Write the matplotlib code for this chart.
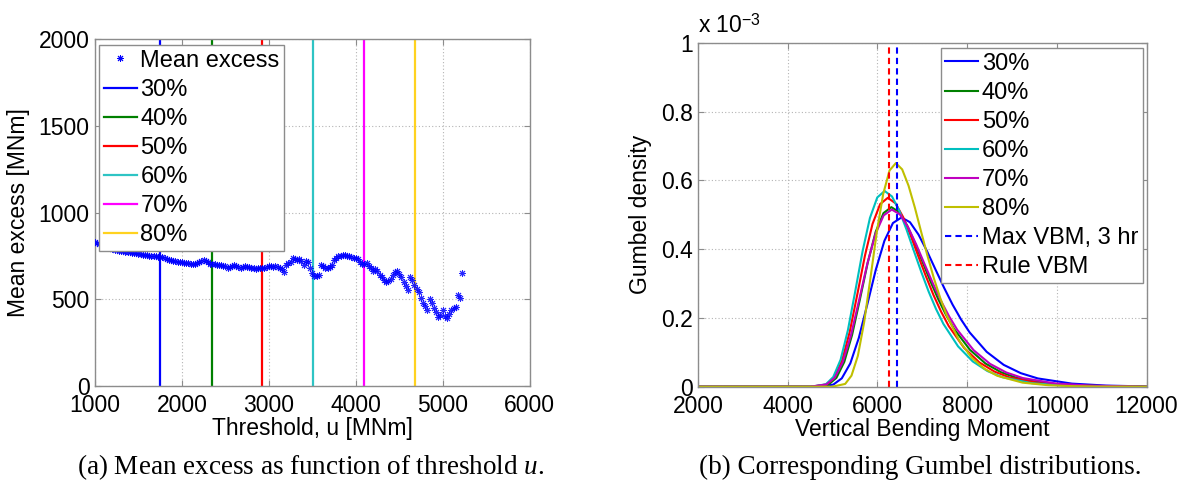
import numpy as np
import matplotlib
matplotlib.use('Agg')
import matplotlib.pyplot as plt
from matplotlib.lines import Line2D

plt.rcParams['font.family'] = ['Liberation Sans', 'DejaVu Sans']
plt.rcParams['mathtext.fontset'] = 'custom'
plt.rcParams['mathtext.rm'] = 'Liberation Sans'
plt.rcParams['mathtext.it'] = 'Liberation Serif:italic'

# (a) mean excess vs threshold
thresholds = np.arange(1000, 5226, 25)
mean_excess = [
    830, 825, 820, 815, 810, 806, 800, 796, 790, 786,
    783, 780, 778, 776, 774, 771, 770, 768, 765, 764,
    762, 760, 758, 756, 755, 752, 750, 749, 747, 746,
    744, 742, 738, 733, 728, 724, 720, 718, 716, 714,
    712, 710, 708, 707, 706, 704, 706, 709, 712, 718,
    724, 720, 712, 706, 703, 702, 700, 698, 696, 694,
    690, 682, 686, 692, 698, 694, 686, 680, 688, 690,
    688, 684, 680, 678, 677, 680, 678, 682, 680, 686,
    690, 692, 686, 690, 688, 680, 672, 660, 700, 708,
    712, 736, 730, 728, 732, 718, 700, 720, 712, 680,
    650, 636, 632, 640, 700, 690, 682, 680, 686, 700,
    728, 740, 748, 752, 756, 758, 752, 748, 745, 740,
    738, 730, 715, 706, 706, 710, 692, 680, 662, 672,
    665, 640, 628, 610, 600, 606, 618, 640, 655, 662,
    648, 630, 600, 575, 555, 630, 612, 580, 560, 540,
    510, 480, 460, 440, 500, 480, 450, 425, 400, 410,
    436, 405, 390, 415, 440, 452, 457, 525, 505, 650,
]
pct_labels = ['30%', '40%', '50%', '60%', '70%', '80%']
pct_thresholds = [1748, 2343, 2922, 3512, 4095, 4686]
left_colors = ['#0000ff', '#008000', '#ff0000', '#2ec4c4', '#ff00ff', '#ffd21f']

# (b) Gumbel densities (x in MNm, density in units of 1e-3)
vbm_30 = [2000, 4635, 5015, 5205, 5395, 5585, 5775, 5965, 6155, 6345, 6535, 6725, 6915, 7105, 7295,
          7485, 7675, 7865, 8055, 8435, 8815, 9195, 9575, 10335, 11095, 11855, 12000]
dens_30 = [0, 0.0001, 0.0061, 0.0244, 0.0679, 0.1422, 0.2401, 0.3410, 0.4241, 0.4758, 0.492, 0.4782,
           0.4423, 0.3941, 0.3405, 0.2878, 0.2386, 0.1953, 0.1579, 0.1014, 0.0635, 0.0394, 0.0241,
           0.0090, 0.0033, 0.0012, 0]
vbm_40 = [2000, 4560, 4910, 5085, 5260, 5435, 5610, 5785, 5960, 6135, 6310, 6485, 6660, 6835, 7010,
          7185, 7360, 7535, 7710, 8060, 8410, 8760, 9110, 9810, 10510, 11210, 11910, 12000]
dens_40 = [0, 0.0001, 0.0065, 0.0258, 0.0720, 0.1509, 0.2547, 0.3617, 0.4500, 0.5048, 0.522, 0.5074,
           0.4693, 0.4181, 0.3612, 0.3054, 0.2532, 0.2072, 0.1676, 0.1075, 0.0673, 0.0418, 0.0255,
           0.0094, 0.0035, 0.0013, 0.0005, 0]
vbm_50 = [2000, 4530, 4870, 5040, 5210, 5380, 5550, 5720, 5890, 6060, 6230, 6400, 6570, 6740, 6910,
          7080, 7250, 7420, 7590, 7930, 8270, 8610, 8950, 9630, 10310, 10990, 11670, 12000]
dens_50 = [0, 0.0001, 0.0068, 0.0272, 0.0758, 0.1587, 0.2679, 0.3805, 0.4732, 0.5309, 0.549, 0.5336,
           0.4936, 0.4397, 0.3799, 0.3212, 0.2663, 0.2180, 0.1762, 0.1131, 0.0708, 0.0439, 0.0268,
           0.0100, 0.0037, 0.0014, 0.0005, 0]
vbm_60 = [2000, 4522, 4850, 5014, 5178, 5341, 5505, 5669, 5832, 5996, 6160, 6324, 6488, 6651, 6815,
          6979, 7143, 7306, 7470, 7798, 8125, 8453, 8780, 9435, 10090, 10745, 11400, 12000]
dens_60 = [0, 0.0001, 0.0071, 0.0282, 0.0785, 0.1644, 0.2777, 0.3943, 0.4905, 0.5502, 0.569, 0.5531,
           0.5115, 0.4558, 0.3937, 0.3329, 0.2760, 0.2259, 0.1826, 0.1172, 0.0734, 0.0455, 0.0278,
           0.0104, 0.0038, 0.0014, 0.0005, 0]
vbm_70 = [2000, 4495, 4860, 5043, 5225, 5408, 5590, 5773, 5955, 6138, 6320, 6503, 6685, 6868, 7050,
          7233, 7415, 7598, 7780, 8145, 8510, 8875, 9240, 9970, 10700, 11430, 12000]
dens_70 = [0, 0.0001, 0.0064, 0.0255, 0.0711, 0.1488, 0.2513, 0.3569, 0.4439, 0.4980, 0.515, 0.5006,
           0.4630, 0.4125, 0.3564, 0.3013, 0.2498, 0.2045, 0.1653, 0.1061, 0.0664, 0.0412, 0.0252,
           0.0094, 0.0035, 0.0013, 0]
vbm_80 = [2000, 4998, 5280, 5421, 5563, 5704, 5845, 5986, 6128, 6269, 6410, 6551, 6693, 6834, 6975,
          7116, 7258, 7399, 7540, 7823, 8105, 8388, 8670, 9235, 9800, 10365, 10930, 12000]
dens_80 = [0, 0.0001, 0.0081, 0.0322, 0.0897, 0.1879, 0.3172, 0.4505, 0.5603, 0.6286, 0.650, 0.6318,
           0.5844, 0.5207, 0.4498, 0.3803, 0.3153, 0.2581, 0.2087, 0.1339, 0.0839, 0.0520, 0.0318,
           0.0118, 0.0044, 0.0016, 0.0006, 0]
gumbel_x = [vbm_30, vbm_40, vbm_50, vbm_60, vbm_70, vbm_80]
gumbel_y = [dens_30, dens_40, dens_50, dens_60, dens_70, dens_80]
right_colors = ['#0000ff', '#008000', '#ff0000', '#00bfbf', '#bf00bf', '#bfbf00']
max_vbm_3hr = 6437
rule_vbm = 6266

fs = 16.5
lfs = 17
grid_kw = dict(color='#b4b4b4', linestyle=(0, (1, 2)), linewidth=0.8)
leg_kw = dict(fontsize=lfs, frameon=True, fancybox=False, framealpha=1, edgecolor='#8c8c8c',
              handlelength=1.4, handletextpad=0.15, labelspacing=0.3, borderpad=0.2,
              borderaxespad=0)

fig = plt.figure(figsize=(11.89, 4.91), dpi=100)

def style_axes(ax):
    ax.grid(True, **grid_kw)
    ax.set_axisbelow(True)
    for s in ax.spines.values():
        s.set_color('#8c8c8c')
        s.set_linewidth(1.0)
    ax.tick_params(direction='in', length=4, color='#8c8c8c', labelsize=fs,
                   top=True, right=True, pad=4)
    ax.tick_params(axis='x', pad=6)

# left panel
ax1 = fig.add_axes([0.0799, 0.2138, 0.3655, 0.7067])
ax1.plot(thresholds, mean_excess, linestyle='none', marker=(8, 2, 0), markersize=5,
         markeredgewidth=0.7, color='#0000ff', alpha=0.85, label='Mean excess', zorder=3)
for xv, c, lab in zip(pct_thresholds, left_colors, pct_labels):
    ax1.axvline(xv, color=c, lw=1.6, label=lab, zorder=2)
ax1.set_xlim(1000, 6000)
ax1.set_ylim(0, 2000)
ax1.set_xticks(range(1000, 6001, 1000))
ax1.set_yticks(range(0, 2001, 500))
style_axes(ax1)
ax1.set_xlabel('Threshold, u [MNm]', fontsize=fs, labelpad=0)
ax1.set_ylabel('Mean excess [MNm]', fontsize=fs, labelpad=6)
h1 = [Line2D([], [], linestyle='none', marker=(8, 2, 0), markersize=5, markeredgewidth=0.7, color='#0000ff')]
h1 += [Line2D([], [], color=c, lw=1.6) for c in left_colors]
leg1 = ax1.legend(h1, ['Mean excess'] + pct_labels, loc='upper left',
                  bbox_to_anchor=(99 / 1189, 1 - 45 / 491), bbox_transform=fig.transFigure,
                  **leg_kw)
leg1.get_frame().set_linewidth(1.0)
leg1.set_zorder(5)

# right panel
ax2 = fig.add_axes([0.5871, 0.2124, 0.3772, 0.7006])
for xs, ys, c, lab in zip(gumbel_x, gumbel_y, right_colors, pct_labels):
    ax2.plot(xs, ys, color=c, lw=1.5, label=lab)
ax2.axvline(max_vbm_3hr, color='#0000ff', lw=1.5, ls=(0, (3, 2)), label='Max VBM, 3 hr')
ax2.axvline(rule_vbm, color='#ff0000', lw=1.5, ls=(0, (3, 2)), label='Rule VBM')
ax2.set_xlim(2000, 12000)
ax2.set_ylim(0, 1)
ax2.set_xticks(range(2000, 12001, 2000))
ax2.set_yticks([0, 0.2, 0.4, 0.6, 0.8, 1])
ax2.set_yticklabels(['0', '0.2', '0.4', '0.6', '0.8', '1'])
style_axes(ax2)
ax2.set_xlabel('Vertical Bending Moment', fontsize=fs, labelpad=0)
ax2.set_ylabel('Gumbel density', fontsize=fs, labelpad=6)
ax2.text(0.0, 1.015, r'x 10$^{\mathregular{-3}}$', transform=ax2.transAxes, fontsize=fs,
         ha='left', va='bottom')
leg2 = ax2.legend(loc='upper right', bbox_to_anchor=(1143 / 1189, 1 - 48 / 491),
                  bbox_transform=fig.transFigure, **leg_kw)
leg2.get_frame().set_linewidth(1.0)

# captions
serif = ['Liberation Serif', 'DejaVu Serif']
fig.text(311 / 1189, 1 - 467 / 491, r'(a) Mean excess as function of threshold $\mathit{u}$.',
         ha='center', va='center', fontsize=19.5, family=serif)
fig.text(920 / 1189, 1 - 467 / 491, '(b) Corresponding Gumbel distributions.',
         ha='center', va='center', fontsize=19.5, family=serif)

fig.savefig('out.png', dpi=100)
